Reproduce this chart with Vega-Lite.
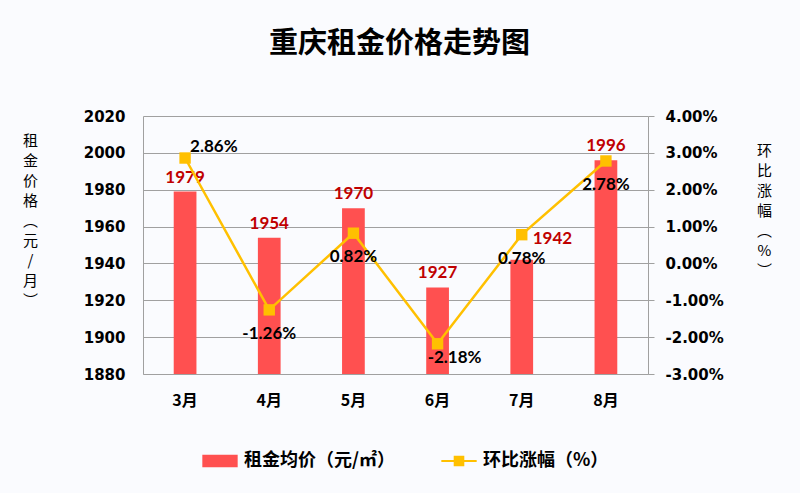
{
  "$schema": "https://vega.github.io/schema/vega-lite/v6.json",
  "width": 505,
  "height": 258,
  "autosize": {"type": "none"},
  "padding": {"left": 143, "top": 116, "right": 152, "bottom": 119},
  "background": "#FAFBFE",
  "title": {"text": "重庆租金价格走势图", "font": "Noto Sans CJK SC", "fontSize": 29, "fontWeight": "bold", "color": "#000000", "anchor": "middle", "offset": 50, "dx": 4},
  "data": {"values": [
    {"month": "3月", "price": 1979, "change": 0.0286},
    {"month": "4月", "price": 1954, "change": -0.0126},
    {"month": "5月", "price": 1970, "change": 0.0082},
    {"month": "6月", "price": 1927, "change": -0.0218},
    {"month": "7月", "price": 1942, "change": 0.0078},
    {"month": "8月", "price": 1996, "change": 0.0278}
  ]},
  "transform": [{"calculate": "replace(format(datum.change, '.2%'), '−', '-')", "as": "changeLabel"}],
  "encoding": {
    "x": {"field": "month", "type": "nominal", "sort": null,
      "scale": {"paddingInner": 0, "paddingOuter": 0},
      "axis": {"title": null, "labelAngle": 0, "ticks": false, "domainColor": "#A0A0A0", "labelFont": "Noto Sans CJK SC", "labelFontSize": 16, "labelFontWeight": "bold", "labelColor": "#000000", "labelPadding": 18}}
  },
  "layer": [
    {
      "encoding": {
        "y": {"field": "price", "type": "quantitative",
          "scale": {"domain": [1880, 2020], "zero": false, "nice": false},
          "axis": {"orient": "left", "values": [1880, 1900, 1920, 1940, 1960, 1980, 2000, 2020], "format": "d", "grid": true, "gridColor": "#A0A0A0", "domainColor": "#A0A0A0", "ticks": false, "labelFont": "DejaVu Sans", "labelFontSize": 15, "labelFontWeight": "bold", "labelColor": "#000000", "labelPadding": 18,
            "title": ["租", "金", "价", "格", "︵", "元", "/", "月", "︶"], "titleAngle": 0, "titleX": -113, "titleY": 17, "titleAlign": "center", "titleBaseline": "top", "titleFont": "Noto Sans CJK SC", "titleFontSize": 15, "titleFontWeight": "normal", "titleLineHeight": 20, "titleColor": "#000000"}}
      },
      "layer": [
        {"mark": {"type": "bar", "width": {"band": 0.27}},
         "encoding": {
           "y2": {"datum": 1880},
           "color": {"datum": "租金均价（元/㎡）", "type": "nominal",
           "scale": {"domain": ["租金均价（元/㎡）", "环比涨幅（%）"], "range": ["#FF5050", "#FFC000"]},
           "legend": {
             "orient": "none", "legendX": 68, "legendY": 336, "direction": "horizontal", "title": null, "padding": 0,
             "columnPadding": 46, "labelOffset": 15, "symbolSize": 200,
             "labelFont": "Noto Sans CJK SC", "labelFontSize": 18, "labelFontWeight": "bold", "labelColor": "#000000",
             "encode": {"symbols": {"update": {
               "shape": {"signal": "datum.value === '租金均价（元/㎡）' ? 'M-2.5,-0.9H2.5V0.9H-2.5Z' : 'M-2.5,-0.15H2.5V0.15H-2.5Z M-0.75,-0.75H0.75V0.75H-0.75Z'"},
               "fill": {"signal": "datum.value === '租金均价（元/㎡）' ? '#FF5050' : '#FFC000'"},
               "stroke": {"value": "transparent"},
               "strokeWidth": {"value": 0},
               "opacity": {"value": 1}
             }}}
           }}}},
        {"transform": [{"filter": "datum.month !== '7月'"}],
         "mark": {"type": "text", "baseline": "middle", "dy": -14, "color": "#C00000", "font": "Lato", "fontSize": 17, "fontWeight": "bold"},
         "encoding": {"text": {"field": "price", "type": "quantitative", "format": "d"}}},
        {"transform": [{"filter": "datum.month === '7月'"}],
         "mark": {"type": "text", "baseline": "middle", "align": "left", "dx": 11, "dy": -21, "color": "#C00000", "font": "Lato", "fontSize": 17, "fontWeight": "bold"},
         "encoding": {"text": {"field": "price", "type": "quantitative", "format": "d"}}}
      ]
    },
    {
      "encoding": {
        "y": {"field": "change", "type": "quantitative",
          "scale": {"domain": [-0.03, 0.04], "zero": false, "nice": false},
          "axis": {"orient": "right", "values": [-0.03, -0.02, -0.01, 0, 0.01, 0.02, 0.03, 0.04], "format": ".2%", "labelExpr": "replace(datum.label, '−', '-')", "grid": false, "domainColor": "#A0A0A0", "ticks": true, "tickColor": "#A0A0A0", "tickSize": 6, "labelFont": "DejaVu Sans", "labelFontSize": 15, "labelFontWeight": "bold", "labelColor": "#000000", "labelPadding": 11,
            "title": ["环", "比", "涨", "幅", "︵", "%", "︶"], "titleAngle": 0, "titleX": 116, "titleY": 27, "titleAlign": "center", "titleBaseline": "top", "titleFont": "Noto Sans CJK SC", "titleFontSize": 15, "titleFontWeight": "normal", "titleLineHeight": 20, "titleColor": "#000000"}}
      },
      "layer": [
        {"mark": {"type": "line", "strokeWidth": 2.5, "point": {"shape": "square", "size": 130, "filled": true}},
         "encoding": {"color": {"datum": "环比涨幅（%）", "type": "nominal"}}},
        {"transform": [{"filter": "datum.month === '3月'"}],
         "mark": {"type": "text", "baseline": "middle", "align": "left", "dx": 5, "dy": -11, "color": "#000000", "font": "Lato", "fontSize": 17, "fontWeight": "bold"},
         "encoding": {"text": {"field": "changeLabel", "type": "nominal"}}},
        {"transform": [{"filter": "datum.month !== '3月' && datum.month !== '6月'"}],
         "mark": {"type": "text", "baseline": "middle", "align": "center", "dy": 24, "color": "#000000", "font": "Lato", "fontSize": 17, "fontWeight": "bold"},
         "encoding": {"text": {"field": "changeLabel", "type": "nominal"}}},
        {"transform": [{"filter": "datum.month === '6月'"}],
         "mark": {"type": "text", "baseline": "middle", "align": "center", "dx": 17, "dy": 14, "color": "#000000", "font": "Lato", "fontSize": 17, "fontWeight": "bold"},
         "encoding": {"text": {"field": "changeLabel", "type": "nominal"}}}
      ]
    }
  ],
  "resolve": {"scale": {"y": "independent"}, "axis": {"y": "independent"}},
  "config": {
    "view": {"stroke": null}
  }
}
